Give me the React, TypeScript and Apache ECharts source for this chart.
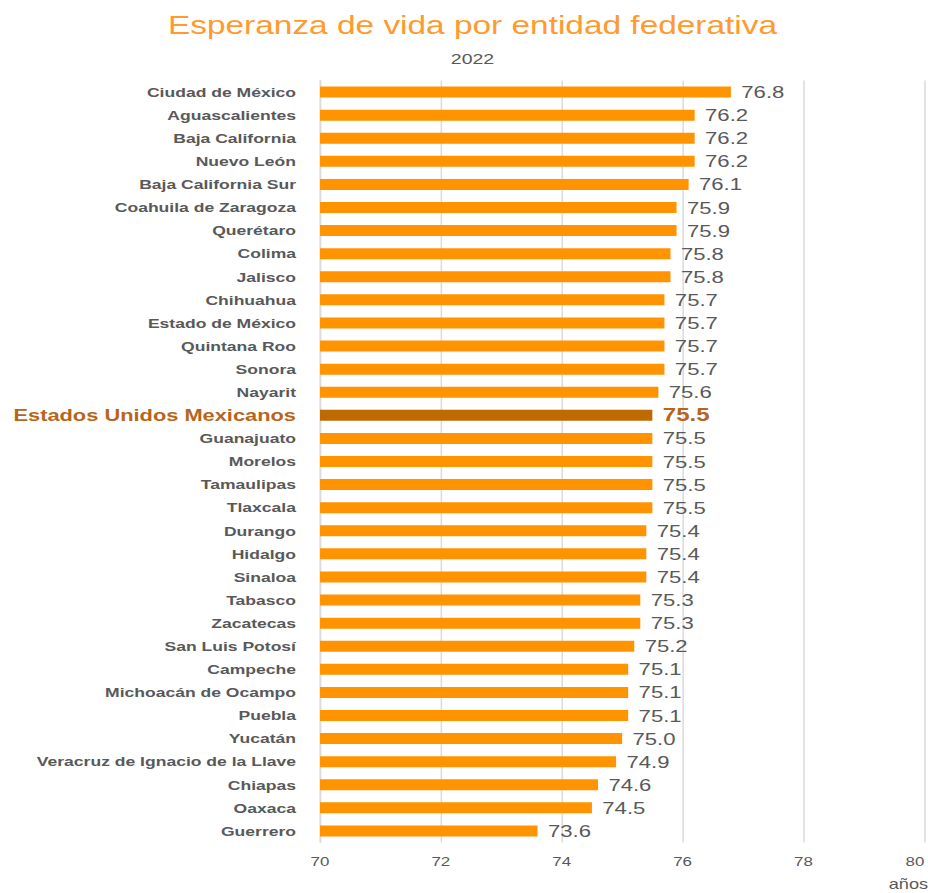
import React, { useEffect, useRef } from "react";
import * as echarts from "echarts";

const categories: string[] = [
  "Ciudad de México",
  "Aguascalientes",
  "Baja California",
  "Nuevo León",
  "Baja California Sur",
  "Coahuila de Zaragoza",
  "Querétaro",
  "Colima",
  "Jalisco",
  "Chihuahua",
  "Estado de México",
  "Quintana Roo",
  "Sonora",
  "Nayarit",
  "Estados Unidos Mexicanos",
  "Guanajuato",
  "Morelos",
  "Tamaulipas",
  "Tlaxcala",
  "Durango",
  "Hidalgo",
  "Sinaloa",
  "Tabasco",
  "Zacatecas",
  "San Luis Potosí",
  "Campeche",
  "Michoacán de Ocampo",
  "Puebla",
  "Yucatán",
  "Veracruz de Ignacio de la Llave",
  "Chiapas",
  "Oaxaca",
  "Guerrero",
];

const values: number[] = [
  76.8, 76.2, 76.2, 76.2, 76.1, 75.9, 75.9, 75.8, 75.8, 75.7, 75.7, 75.7, 75.7,
  75.6, 75.5, 75.5, 75.5, 75.5, 75.5, 75.4, 75.4, 75.4, 75.3, 75.3, 75.2, 75.1,
  75.1, 75.1, 75.0, 74.9, 74.6, 74.5, 73.6,
];

const highlight = "Estados Unidos Mexicanos";
const titleText = "Esperanza de vida por entidad federativa";
const subtitleText = "2022";
const axisUnit = "años";

const FONT = "'Liberation Sans', Arial, sans-serif";
// the reference picture is stretched horizontally; draw narrower and stretch
const STRETCH = 1.3;
const WIDTH = 928 / STRETCH;
const HEIGHT = 893;

export default function App() {
  const ref = useRef<HTMLDivElement>(null);
  useEffect(() => {
    if (!ref.current) return;
    const chart = echarts.init(ref.current, undefined, { renderer: "svg" });
    const data = values.map((v, i) => {
      if (categories[i] === highlight) {
        return {
          value: v,
          itemStyle: { color: "#BF6A00" },
          label: { color: "#B8651B", fontWeight: "bold", fontSize: 18.5 },
        };
      }
      return { value: v };
    });
    chart.setOption({
      animation: false,
      textStyle: { fontFamily: FONT },
      title: [
        {
          text: titleText,
          left: 466 / STRETCH,
          top: 7,
          textAlign: "center",
          textStyle: { color: "#FF9A2E", fontSize: 25.7, fontWeight: "normal", fontFamily: FONT },
        },
        {
          text: subtitleText,
          left: 466 / STRETCH,
          top: 46,
          textAlign: "center",
          textStyle: { color: "#595959", fontSize: 15, fontWeight: "normal", fontFamily: FONT },
        },
      ],
      grid: { left: 320 / STRETCH, right: 0, top: 80.5, bottom: 50.5, containLabel: false },
      xAxis: {
        type: "value",
        min: 70,
        max: 80,
        interval: 2,
        axisLine: { show: false },
        axisTick: { show: false },
        axisLabel: {
          color: "#595959",
          fontSize: 13,
          margin: 12,
          fontFamily: FONT,
          alignMaxLabel: "right",
        },
        splitLine: { show: true, lineStyle: { color: "#DCDCDC", width: 1.2 } },
      },
      yAxis: {
        type: "category",
        data: categories,
        inverse: true,
        axisLine: { show: true, lineStyle: { color: "#DCDCDC", width: 1.2 } },
        axisTick: { show: false },
        axisLabel: {
          margin: 24 / STRETCH,
          fontFamily: FONT,
          formatter: (v: string) => (v === highlight ? `{h|${v}}` : `{n|${v}}`),
          rich: {
            n: { color: "#595959", fontSize: 13.5, fontWeight: "bold", fontFamily: FONT },
            h: { color: "#B8651B", fontSize: 16.8, fontWeight: "bold", fontFamily: FONT },
          },
        },
      },
      series: [
        {
          type: "bar",
          data,
          barWidth: 11,
          itemStyle: { color: "#FF9300" },
          label: {
            show: true,
            position: "right",
            distance: 8,
            color: "#595959",
            fontSize: 17,
            fontFamily: FONT,
            formatter: (p: any) => Number(p.value).toFixed(1),
          },
        },
      ],
      graphic: [
        {
          type: "text",
          right: 0,
          top: 877,
          style: { text: axisUnit, fill: "#595959", fontSize: 14, fontFamily: FONT },
        },
      ],
    });
    return () => chart.dispose();
  }, []);
  return (
    <div
      ref={ref}
      style={{
        position: "absolute",
        left: 0,
        top: 0,
        width: WIDTH,
        height: HEIGHT,
        transform: `scaleX(${STRETCH})`,
        transformOrigin: "0 0",
      }}
    />
  );
}
